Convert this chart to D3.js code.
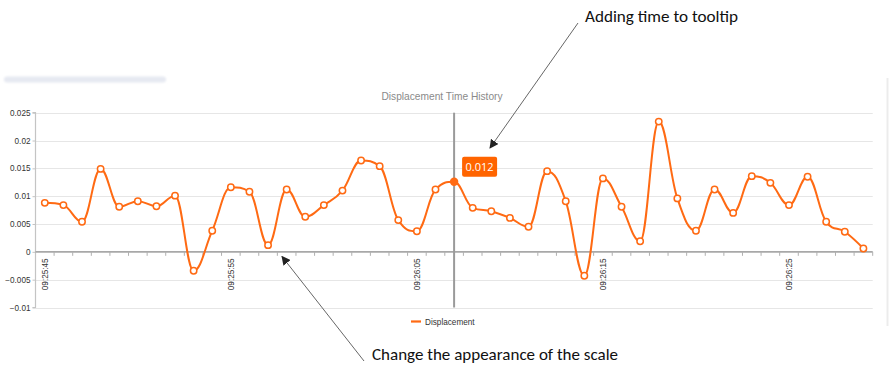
<!DOCTYPE html>
<html>
<head>
<meta charset="utf-8">
<script src="https://cdn.jsdelivr.net/npm/d3@7/dist/d3.min.js"></script>
<style>
  html, body { margin: 0; padding: 0; background: #fff; }
  svg { display: block; }
</style>
</head>
<body>
<svg id="chart" width="893" height="376"></svg>
<script>
// ---------------- DATA ----------------
const categories = [
  "09:25:45","09:25:46","09:25:47","09:25:48","09:25:49","09:25:50","09:25:51","09:25:52","09:25:53","09:25:54",
  "09:25:55","09:25:56","09:25:57","09:25:58","09:25:59","09:26:00","09:26:01","09:26:02","09:26:03","09:26:04",
  "09:26:05","09:26:06","09:26:07","09:26:08","09:26:09","09:26:10","09:26:11","09:26:12","09:26:13","09:26:14",
  "09:26:15","09:26:16","09:26:17","09:26:18","09:26:19","09:26:20","09:26:21","09:26:22","09:26:23","09:26:24",
  "09:26:25","09:26:26","09:26:27","09:26:28","09:26:29"
];
const displacement = [
  0.0088, 0.0084, 0.0054, 0.0149, 0.0081, 0.0091, 0.0082, 0.0101, -0.0034, 0.0038,
  0.0116, 0.0108, 0.0012, 0.0112, 0.0063, 0.0084, 0.0110, 0.0164, 0.0154, 0.0057,
  0.0037, 0.0112, 0.0126, 0.0079, 0.0073, 0.0061, 0.0045, 0.0145, 0.0091, -0.0043,
  0.0132, 0.0081, 0.0019, 0.0234, 0.0096, 0.0038, 0.0112, 0.0070, 0.0136, 0.0124,
  0.0084, 0.0135, 0.0054, 0.0036, 0.0006
];
const xTickLabels = ["09:25:45","09:25:55","09:26:05","09:26:15","09:26:25"];
const yTicks = [-0.01, -0.005, 0, 0.005, 0.01, 0.015, 0.02, 0.025];
const seriesName = "Displacement";
const chartTitle = "Displacement Time History";
const hoverCategory = "09:26:07";
const tooltipText = "0.012";
const noteTop = "Adding time to tooltip";
const noteBottom = "Change the appearance of the scale";

// ---------------- LAYOUT ----------------
const W = 893, H = 376;
const plotL = 35.5, plotR = 872.7, plotT = 112.7, plotB = 307.5;
const orange = "#ff6a13";
const svg = d3.select("#chart");
const font = "'Liberation Sans', Arial, sans-serif";

const x = d3.scaleBand().domain(categories).range([plotL, plotR]).padding(0);
const xc = d => x(d) + x.bandwidth() / 2;
const y = d3.scaleLinear().domain([-0.01, 0.025]).range([plotB, plotT]);

// decorative top-left bar
const defs = svg.append("defs");
const blur = defs.append("filter").attr("id", "blur").attr("x", "-10%").attr("y", "-100%").attr("width", "120%").attr("height", "300%");
blur.append("feGaussianBlur").attr("stdDeviation", 1.2);
svg.append("rect").attr("x", 4).attr("y", 76.5).attr("width", 162).attr("height", 6)
  .attr("rx", 3).attr("fill", "#e6e9f1").attr("filter", "url(#blur)");

// right border line
svg.append("line").attr("x1", 887.5).attr("x2", 887.5).attr("y1", 78).attr("y2", 326)
  .attr("stroke", "#ececec").attr("stroke-width", 2);

// gridlines
svg.append("g").selectAll("line").data(yTicks.filter(t => t !== 0)).join("line")
  .attr("x1", plotL).attr("x2", plotR)
  .attr("y1", d => Math.round(y(d)) + 0.5).attr("y2", d => Math.round(y(d)) + 0.5)
  .attr("stroke", "#e6e6e6").attr("stroke-width", 1.2);

// y axis
const yAxis = d3.axisLeft(y).tickValues(yTicks).tickSize(3).tickPadding(2)
  .tickFormat(d => d3.format("")(+d.toFixed(3)));
const gy = svg.append("g").attr("transform", `translate(${plotL},0)`).call(yAxis);
gy.select(".domain").attr("stroke", "#c4c4c4").attr("stroke-width", 1.2)
  .attr("d", `M-3,${plotT}H0V${plotB}H-3`);
gy.selectAll(".tick line").attr("stroke", "#c4c4c4");
gy.selectAll(".tick text").attr("font-family", font).attr("font-size", 8.2).attr("fill", "#333");

// x axis at zero
const y0 = y(0);
svg.append("line").attr("x1", plotL).attr("x2", plotR).attr("y1", y0).attr("y2", y0)
  .attr("stroke", "#a8a8a8").attr("stroke-width", 1.6);
const boundaries = categories.map(c => x(c)).concat([x(categories[categories.length - 1]) + x.bandwidth()]).slice(1);
svg.append("g").selectAll("line").data(boundaries).join("line")
  .attr("x1", d => d).attr("x2", d => d).attr("y1", y0).attr("y2", y0 + 4)
  .attr("stroke", "#b0b0b0").attr("stroke-width", 1);
svg.append("g").selectAll("text").data(xTickLabels).join("text")
  .attr("transform", d => `translate(${xc(d)},${y0 + 6.5}) rotate(-90)`)
  .attr("text-anchor", "end").attr("dy", "0.35em")
  .attr("font-family", font).attr("font-size", 8.2).attr("fill", "#333")
  .text(d => d);

// title
svg.append("text").attr("x", 442).attr("y", 100).attr("text-anchor", "middle")
  .attr("font-family", font).attr("font-size", 10.2).attr("fill", "#8a8a8a").text(chartTitle);

// crosshair
svg.append("line").attr("x1", xc(hoverCategory)).attr("x2", xc(hoverCategory))
  .attr("y1", plotT).attr("y2", plotB).attr("stroke", "#9a9a9a").attr("stroke-width", 2);

// Highcharts-like spline
function hcSpline(pts) {
  const sm = 1.5, den = sm + 1;
  const cps = pts.map(() => ({}));
  for (let i = 1; i < pts.length - 1; i++) {
    const [px, py] = pts[i], [lx, ly] = pts[i - 1], [nx, ny] = pts[i + 1];
    const lcx = (sm * px + lx) / den, rcx = (sm * px + nx) / den;
    let lcy = (sm * py + ly) / den, rcy = (sm * py + ny) / den;
    let corr = 0;
    if (rcx !== lcx) corr = ((rcy - lcy) * (rcx - px)) / (rcx - lcx) + py - rcy;
    lcy += corr; rcy += corr;
    if (lcy > ly && lcy > py) { lcy = Math.max(ly, py); rcy = 2 * py - lcy; }
    else if (lcy < ly && lcy < py) { lcy = Math.min(ly, py); rcy = 2 * py - lcy; }
    if (rcy > ny && rcy > py) { rcy = Math.max(ny, py); lcy = 2 * py - rcy; }
    else if (rcy < ny && rcy < py) { rcy = Math.min(ny, py); lcy = 2 * py - rcy; }
    cps[i] = { lcx, lcy, rcx, rcy };
  }
  const p = d3.path();
  p.moveTo(pts[0][0], pts[0][1]);
  for (let i = 1; i < pts.length; i++) {
    const a = cps[i - 1], b = cps[i];
    p.bezierCurveTo(
      a.rcx ?? pts[i - 1][0], a.rcy ?? pts[i - 1][1],
      b.lcx ?? pts[i][0], b.lcy ?? pts[i][1],
      pts[i][0], pts[i][1]);
  }
  return p.toString();
}
const pts = categories.map((c, i) => [xc(c), y(displacement[i])]);
svg.append("path").attr("d", hcSpline(pts)).attr("fill", "none")
  .attr("stroke", orange).attr("stroke-width", 2).attr("stroke-linejoin", "round");

// markers
svg.append("g").selectAll("circle").data(categories).join("circle")
  .attr("cx", d => xc(d)).attr("cy", (d, i) => y(displacement[i]))
  .attr("r", d => d === hoverCategory ? 4.2 : 3.2)
  .attr("fill", d => d === hoverCategory ? orange : "#fff")
  .attr("stroke", orange).attr("stroke-width", d => d === hoverCategory ? 0 : 1.5);

// tooltip
const hi = categories.indexOf(hoverCategory);
const tx = xc(hoverCategory) + 8, ty = y(displacement[hi]) - 25;
svg.append("rect").attr("x", tx).attr("y", ty).attr("width", 35).attr("height", 20).attr("rx", 2)
  .attr("fill", "#ff6400");
svg.append("text").attr("x", tx + 17.5).attr("y", ty + 14).attr("text-anchor", "middle")
  .attr("font-family", "'Open Sans', sans-serif").attr("font-size", 11).attr("fill", "#fff").text(tooltipText);

// legend
svg.append("line").attr("x1", 411).attr("x2", 421).attr("y1", 321.5).attr("y2", 321.5)
  .attr("stroke", orange).attr("stroke-width", 2.2);
svg.append("text").attr("x", 425).attr("y", 324.5)
  .attr("font-family", font).attr("font-size", 8.2).attr("fill", "#333").text(seriesName);

// annotations
defs.append("marker").attr("id", "arr").attr("viewBox", "0 0 10 10").attr("refX", 9).attr("refY", 5)
  .attr("markerWidth", 9).attr("markerHeight", 9).attr("markerUnits", "userSpaceOnUse").attr("orient", "auto")
  .append("path").attr("d", "M0,0L10,5L0,10z").attr("fill", "#222");
svg.append("line").attr("x1", 578).attr("y1", 23).attr("x2", 490).attr("y2", 148)
  .attr("stroke", "#555").attr("stroke-width", 0.9).attr("marker-end", "url(#arr)");
svg.append("line").attr("x1", 364).attr("y1", 361).attr("x2", 282).attr("y2", 256.5)
  .attr("stroke", "#555").attr("stroke-width", 0.9).attr("marker-end", "url(#arr)");

const noteFont = "Carlito, Calibri, Lato, sans-serif";
svg.append("text").attr("x", 585).attr("y", 21.5).attr("font-family", noteFont).attr("font-size", 15.5)
  .attr("fill", "#111").attr("textLength", 153).attr("lengthAdjust", "spacingAndGlyphs").text(noteTop);
svg.append("text").attr("x", 372).attr("y", 360).attr("font-family", noteFont).attr("font-size", 15.5)
  .attr("fill", "#111").attr("textLength", 246).attr("lengthAdjust", "spacingAndGlyphs").text(noteBottom);
</script>
</body>
</html>
